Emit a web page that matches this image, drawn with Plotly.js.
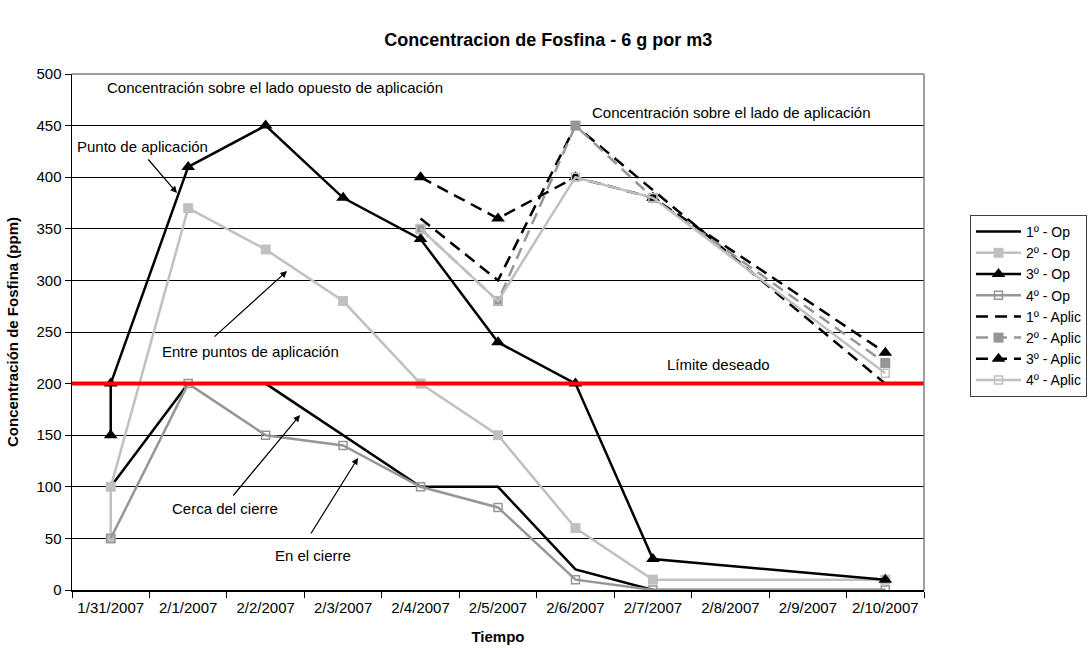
<!DOCTYPE html>
<html>
<head>
<meta charset="utf-8">
<script src="https://cdn.plot.ly/plotly-3.0.1.min.js"></script>
<style>html,body{margin:0;padding:0;background:#fff;}#chart{width:1090px;height:648px;}</style>
</head>
<body>
<div id="chart"></div>
<script>
// Categories (date axis, one slot per day)
var dates = ['1/31/2007','2/1/2007','2/2/2007','2/3/2007','2/4/2007','2/5/2007','2/6/2007','2/7/2007','2/8/2007','2/9/2007','2/10/2007'];

// Opposite side of application ("Op")
var op1X = ['1/31/2007','2/1/2007','2/2/2007','2/3/2007','2/4/2007','2/5/2007','2/6/2007','2/7/2007','2/10/2007'];
var op1Y = [100, 200, 200, 150, 100, 100, 20, 0, 0];

var op2X = ['1/31/2007','1/31/2007','2/1/2007','2/2/2007','2/3/2007','2/4/2007','2/5/2007','2/6/2007','2/7/2007','2/10/2007'];
var op2Y = [50, 100, 370, 330, 280, 200, 150, 60, 10, 10];

var op3X = ['1/31/2007','1/31/2007','2/1/2007','2/2/2007','2/3/2007','2/4/2007','2/5/2007','2/6/2007','2/7/2007','2/10/2007'];
var op3Y = [150, 200, 410, 450, 380, 340, 240, 200, 30, 10];

var op4X = ['1/31/2007','2/1/2007','2/2/2007','2/3/2007','2/4/2007','2/5/2007','2/6/2007','2/7/2007','2/10/2007'];
var op4Y = [50, 200, 150, 140, 100, 80, 10, 0, 0];

// Application side ("Aplic")
var ap1X = ['2/4/2007','2/5/2007','2/6/2007','2/10/2007'];
var ap1Y = [360, 300, 450, 200];

var ap2X = ['2/4/2007','2/5/2007','2/6/2007','2/7/2007','2/10/2007'];
var ap2Y = [350, 280, 450, 380, 220];

var ap3X = ['2/4/2007','2/5/2007','2/6/2007','2/7/2007','2/10/2007'];
var ap3Y = [400, 360, 400, 380, 230];

var ap4X = ['2/4/2007','2/5/2007','2/6/2007','2/7/2007','2/10/2007'];
var ap4Y = [350, 280, 400, 380, 210];

var yTicks = [0, 50, 100, 150, 200, 250, 300, 350, 400, 450, 500];
var limitValue = 200;

var FONT = 'Liberation Sans, Arial, sans-serif';
var LW = 2.5;
var DASH = '12px,7px';

var traces = [
  {name: '1º - Op', x: op1X, y: op1Y, mode: 'lines', line: {color: '#000000', width: LW}},
  {name: '2º - Op', x: op2X, y: op2Y, mode: 'lines+markers', line: {color: '#c0c0c0', width: LW},
    marker: {symbol: 'square', size: 10, color: '#c0c0c0'}},
  {name: '3º - Op', x: op3X, y: op3Y, mode: 'lines+markers', line: {color: '#000000', width: LW},
    marker: {symbol: 'triangle-up', size: 12, color: '#000000'}},
  {name: '4º - Op', x: op4X, y: op4Y, mode: 'lines+markers', line: {color: '#969696', width: LW},
    marker: {symbol: 'square-open', size: 8, color: '#969696', line: {width: 1.5, color: '#969696'}}},
  {name: '1º - Aplic', x: ap1X, y: ap1Y, mode: 'lines', line: {color: '#000000', width: LW, dash: DASH}},
  {name: '2º - Aplic', x: ap2X, y: ap2Y, mode: 'lines+markers', line: {color: '#969696', width: LW, dash: DASH},
    marker: {symbol: 'square', size: 10, color: '#969696'}},
  {name: '3º - Aplic', x: ap3X, y: ap3Y, mode: 'lines+markers', line: {color: '#000000', width: LW, dash: DASH},
    marker: {symbol: 'triangle-up', size: 12, color: '#000000'}},
  {name: '4º - Aplic', x: ap4X, y: ap4Y, mode: 'lines+markers', line: {color: '#c0c0c0', width: LW},
    marker: {symbol: 'square-open', size: 8, color: '#c0c0c0', line: {width: 1.5, color: '#c0c0c0'}}}
];

function px2x(px) { return (px - 72) / 852; }
function px2y(py) { return (590 - py) / 516; }

function label(text, left, cy) {
  return {text: text, xref: 'paper', yref: 'paper', x: px2x(left), y: px2y(cy),
    xanchor: 'left', yanchor: 'middle', showarrow: false, font: {family: FONT, size: 15, color: '#000'}};
}
function arrow(tx, ty, hx, hy) {
  return {text: '', xref: 'paper', yref: 'paper', x: px2x(hx), y: px2y(hy),
    ax: tx - hx, ay: ty - hy, axref: 'pixel', ayref: 'pixel', showarrow: true,
    arrowhead: 2, arrowsize: 1.1, arrowwidth: 1.2, arrowcolor: '#000', standoff: 0, startstandoff: 0};
}

var layout = {
  width: 1090, height: 648,
  paper_bgcolor: '#ffffff', plot_bgcolor: '#ffffff',
  font: {family: FONT, size: 15, color: '#000'},
  margin: {l: 72, r: 166, t: 74, b: 58, autoexpand: false},
  title: {text: '<b>Concentracion de Fosfina - 6 g por m3</b>', xref: 'container', x: 0.503, y: 0.938,
    xanchor: 'center', yanchor: 'middle', font: {family: FONT, size: 18, color: '#000'}},
  showlegend: true,
  legend: {x: px2x(970), xanchor: 'left', y: px2y(306), yanchor: 'middle',
    bgcolor: '#ffffff', bordercolor: '#404040', borderwidth: 1,
    font: {family: FONT, size: 14, color: '#000'}, tracegroupgap: 0, itemwidth: 45},
  xaxis: {type: 'category', categoryorder: 'array', categoryarray: dates,
    range: [-0.5, dates.length - 0.5], tickson: 'boundaries',
    ticks: 'outside', ticklen: 6, tickcolor: '#000', tickwidth: 1, ticklabelstandoff: 3,
    showline: true, linecolor: '#000', linewidth: 1.5, showgrid: false, zeroline: false,
    tickfont: {family: FONT, size: 15, color: '#000'},
    title: {text: '<b>Tiempo</b>', standoff: 17, font: {family: FONT, size: 15, color: '#000'}}},
  yaxis: {range: [0, 500], tickvals: yTicks, ticktext: yTicks.map(String),
    ticks: 'outside', ticklen: 6, tickcolor: '#000', tickwidth: 1,
    showline: true, linecolor: '#000', linewidth: 1.5,
    showgrid: true, gridcolor: '#000000', gridwidth: 1, zeroline: false,
    tickfont: {family: FONT, size: 15, color: '#000'},
    title: {text: '<b>Concentración de Fosfina (ppm)</b>', standoff: 14, font: {family: FONT, size: 15, color: '#000'}}},
  shapes: [
    {type: 'line', xref: 'paper', yref: 'y', x0: 0, x1: 1, y0: limitValue, y1: limitValue,
      line: {color: '#ff0000', width: 4}, layer: 'above'},
    {type: 'line', xref: 'paper', yref: 'paper', x0: 0, x1: 1, y0: 1, y1: 1, line: {color: '#808080', width: 1.5}},
    {type: 'line', xref: 'paper', yref: 'paper', x0: 1, x1: 1, y0: 0, y1: 1, line: {color: '#808080', width: 1.5}}
  ],
  annotations: [
    label('Concentración sobre el lado opuesto de aplicación', 105, 87),
    label('Punto de aplicación', 75, 146),
    arrow(147, 158, 177, 193),
    label('Entre puntos de aplicación', 160, 351),
    arrow(213, 338, 287, 271),
    label('Concentración sobre el lado de aplicación', 590, 112),
    label('Límite deseado', 665, 364),
    label('Cerca del cierre', 170, 509),
    arrow(232, 497, 300, 415),
    label('En el cierre', 273, 555),
    arrow(310, 535, 358, 458)
  ]
};

Plotly.newPlot('chart', traces, layout, {displayModeBar: false, staticPlot: true});
</script>
</body>
</html>
